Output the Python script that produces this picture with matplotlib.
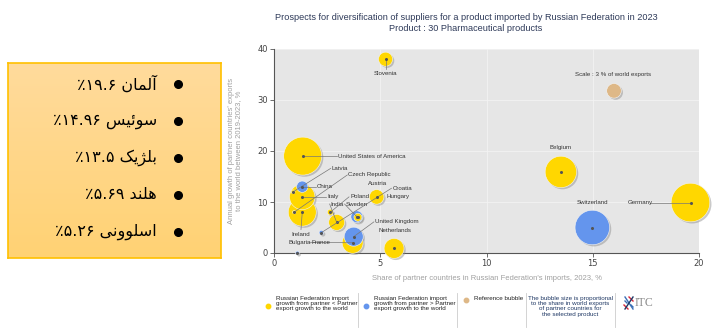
import numpy as np
import matplotlib
matplotlib.use('Agg')
import matplotlib.pyplot as plt
import matplotlib.patheffects as pe
from matplotlib.lines import Line2D
from matplotlib.colors import LinearSegmentedColormap

# partner countries of Russian Federation, HS 30 pharmaceutical products
countries = ['Slovenia', 'United States of America', 'Latvia', 'China', 'Italy',
             'Czech Republic', 'Ireland', 'Poland', 'India', 'Sweden', 'Hungary',
             'Croatia', 'Austria', 'United Kingdom', 'France', 'Bulgaria',
             'Netherlands', 'Belgium', 'Switzerland', 'Germany']
# share in Russian imports 2023, %
import_share = [5.25, 1.35, 0.9, 1.33, 1.33, 0.95, 1.33, 2.65, 2.95, 3.9, 3.95,
                2.23, 4.83, 3.75, 3.7, 1.1, 5.65, 13.5, 14.98, 19.6]
# annual growth of partner exports to the world 2019-2023, %
export_growth = [38.0, 19.0, 12.0, 13.0, 11.0, 8.0, 8.0, 8.0, 6.0, 7.1, 7.0,
                 4.0, 11.0, 3.2, 2.0, 0.0, 0.9, 15.9, 5.0, 9.9]
# share in world exports, % (bubble size)
world_share = [2.8, 20.3, 0.2, 1.8, 9.1, 0.15, 11.0, 0.5, 3.6, 2.0, 0.9,
               0.3, 3.0, 5.1, 6.2, 0.2, 5.6, 13.9, 16.8, 21.0]
# True -> Russian import growth from partner > partner export growth
import_faster = [False, False, False, True, False, False, False, False, False, True, False,
                 True, False, True, False, True, False, False, True, False]

ref_x, ref_y, ref_share = 16.0, 31.8, 3.0

# left panel (Persian)
fa_countries = ['آلمان', 'سوئیس', 'بلژیک', 'هلند', 'اسلوونی']
fa_values = [19.6, 14.96, 13.5, 5.69, 5.26]

# label placement: (x, y, ha, leader line)
label_pos = {
    'Slovenia': (5.25, 35.2, 'center', True),
    'United States of America': (3.0, 19.0, 'left', True),
    'Latvia': (2.72, 16.6, 'left', True),
    'China': (2.02, 13.0, 'left', True),
    'Italy': (2.52, 11.0, 'left', True),
    'Czech Republic': (3.5, 15.3, 'left', True),
    'Ireland': (1.27, 3.7, 'center', True),
    'Poland': (3.58, 11.0, 'left', True),
    'India': (2.67, 9.6, 'left', True),
    'Sweden': (3.37, 9.6, 'left', True),
    'Hungary': (5.3, 11.0, 'left', False),
    'Croatia': (5.58, 12.7, 'left', True),
    'Austria': (4.86, 13.7, 'center', False),
    'United Kingdom': (4.75, 6.1, 'left', True),
    'France': (1.75, 2.1, 'left', True),
    'Bulgaria': (0.67, 2.1, 'left', False),
    'Netherlands': (4.92, 4.4, 'left', False),
    'Belgium': (13.5, 20.6, 'center', False),
    'Switzerland': (14.98, 9.9, 'center', False),
    'Germany': (16.63, 9.9, 'left', True),
}

FORMS = {
    'آ': ('\uFE81', '\uFE82', None, None),
    'ا': ('\uFE8D', '\uFE8E', None, None),
    'ب': ('\uFE8F', '\uFE90', '\uFE91', '\uFE92'),
    'ئ': ('\uFE89', '\uFE8A', '\uFE8B', '\uFE8C'),
    'د': ('\uFEA9', '\uFEAA', None, None),
    'ژ': ('\uFB8A', '\uFB8B', None, None),
    'س': ('\uFEB1', '\uFEB2', '\uFEB3', '\uFEB4'),
    'ل': ('\uFEDD', '\uFEDE', '\uFEDF', '\uFEE0'),
    'م': ('\uFEE1', '\uFEE2', '\uFEE3', '\uFEE4'),
    'ن': ('\uFEE5', '\uFEE6', '\uFEE7', '\uFEE8'),
    'ه': ('\uFEE9', '\uFEEA', '\uFEEB', '\uFEEC'),
    'و': ('\uFEED', '\uFEEE', None, None),
    'ی': ('\uFBFC', '\uFBFD', '\uFBFE', '\uFBFF'),
    'ک': ('\uFB8E', '\uFB8F', '\uFB90', '\uFB91'),
}


def shape_rtl(word):
    # matplotlib does no arabic shaping, so pick presentation forms and reverse
    out = []
    for i, ch in enumerate(word):
        f = FORMS[ch]
        join_prev = i > 0 and FORMS[word[i - 1]][2] is not None
        join_next = i < len(word) - 1 and f[2] is not None
        if join_prev and join_next:
            out.append(f[3])
        elif join_prev:
            out.append(f[1])
        elif join_next:
            out.append(f[2])
        else:
            out.append(f[0])
    return ''.join(reversed(out))


fa_digits = str.maketrans('0123456789', '۰۱۲۳۴۵۶۷۸۹')

W, H = 719, 336
fig = plt.figure(figsize=(W / 100, H / 100), dpi=100)
fig.patch.set_facecolor('white')

# ---- left box
bx = fig.add_axes([8 / W, 1 - 257.5 / H, 213 / W, 195 / H])
grad = np.linspace(0, 1, 100).reshape(-1, 1)
cmap = LinearSegmentedColormap.from_list('box', ['#FFDB9C', '#FFD274'])
bx.imshow(grad, aspect='auto', cmap=cmap, extent=[0, 1, 0, 1], origin='upper')
bx.set_xticks([])
bx.set_yticks([])
for s in bx.spines.values():
    s.set_color('#FFC000')
    s.set_linewidth(1.2)

row_y = [83.5, 121, 158, 194.5, 232]
for name, val, py in zip(fa_countries, fa_values, row_y):
    num = ('%g' % val).translate(fa_digits)
    txt = '٪' + num + ' ' + shape_rtl(name)
    fig.text(157 / W, 1 - py / H, txt, ha='right', va='center', fontsize=11.5,
             family='DejaVu Sans', color='black')
    fig.add_artist(Line2D([178 / W], [1 - py / H], marker='o', ms=5.5, color='black',
                          transform=fig.transFigure))

# ---- bubble chart
ax = fig.add_axes([274 / W, 1 - 253 / H, 425 / W, 204 / H])
ax.set_facecolor('#E6E6E6')
ax.set_xlim(0, 20)
ax.set_ylim(0, 40)
ax.set_xticks([0, 5, 10, 15, 20])
ax.set_yticks([0, 10, 20, 30, 40])
ax.grid(True, color='#F3F3F3', lw=0.6)
ax.set_axisbelow(True)
for s in ['top', 'right']:
    ax.spines[s].set_visible(False)
for s in ['left', 'bottom']:
    ax.spines[s].set_color('#555555')
    ax.spines[s].set_linewidth(0.8)
ax.tick_params(length=3, width=0.6, color='#555555', labelsize=6,
               labelcolor='#444444', pad=1.5)

k = 36.8  # points^2 per % of world exports
shadow = [pe.SimplePatchShadow(offset=(1.2, -1.2), shadow_rgbFace='#888888', alpha=0.45),
          pe.Normal()]
order = np.argsort(world_share)[::-1]
xs = np.array(import_share)[order]
ys = np.array(export_growth)[order]
ss = np.array(world_share)[order] * k
cols = ['#6495ED' if import_faster[i] else '#FFD700' for i in order]
ax.scatter(xs, ys, s=ss, c=cols, edgecolors='#F4F4F4', linewidths=0.4,
           clip_on=False, zorder=3, path_effects=shadow)
ax.scatter([ref_x], [ref_y], s=ref_share * k, c='#DEB887', edgecolors='#F4F4F4',
           linewidths=0.4, zorder=3, path_effects=shadow)
ax.text(ref_x - 0.05, 35.0, 'Scale : 3 % of world exports', ha='center', va='center',
        fontsize=4.4, color='#333333', family='Liberation Sans')

for name, x, y in zip(countries, import_share, export_growth):
    lx, ly, ha, lead = label_pos[name]
    ax.text(lx, ly, name, ha=ha, va='center', fontsize=4.4, color='#333333',
            family='Liberation Sans', zorder=5)
    if lead:
        if ha == 'left':
            sx, sy = lx - 0.05, ly
        else:
            sx, sy = lx, ly + (0.9 if y > ly else -0.9)
        if name == 'Germany':
            sx, sy = lx + 1.05, ly
        ax.plot([sx, x], [sy, y], color='#777777', lw=0.5, zorder=4, clip_on=False)
    ax.plot([x], [y], 'o', ms=1.2, color='#555555', zorder=4, clip_on=False)

fig.text(486.5 / W, 1 - 279 / H,
         "Share of partner countries in Russian Federation's imports, 2023, %",
         ha='center', va='center', fontsize=5.5, color='#A0A0A0', family='Liberation Sans')
fig.text(235 / W, 1 - 151 / H,
         "Annual growth of partner countries' exports\nto the world between 2019-2023, %",
         ha='center', va='center', rotation=90, fontsize=5.5, color='#A0A0A0',
         family='Liberation Sans', linespacing=1.1)

fig.text(466 / W, 1 - 18 / H,
         'Prospects for diversification of suppliers for a product imported by Russian Federation in 2023',
         ha='center', va='center', fontsize=6.6, color='#2E3A59', family='Liberation Sans')
fig.text(466 / W, 1 - 28.5 / H, 'Product : 30 Pharmaceutical products',
         ha='center', va='center', fontsize=6.6, color='#2E3A59', family='Liberation Sans')

# ---- legend
leg_txt = dict(fontsize=4.5, color='#222222', family='Liberation Sans', va='top',
               linespacing=1.05)
fig.add_artist(Line2D([267.5 / W], [1 - 306 / H], marker='o', ms=3.2, color='#FFD700',
                      transform=fig.transFigure))
fig.text(276 / W, 1 - 296 / H,
         'Russian Federation import\ngrowth from partner < Partner\nexport growth to the world',
         ha='left', **leg_txt)
fig.add_artist(Line2D([366 / W], [1 - 306 / H], marker='o', ms=3.2, color='#6495ED',
                      transform=fig.transFigure))
fig.text(374 / W, 1 - 296 / H,
         'Russian Federation import\ngrowth from partner > Partner\nexport growth to the world',
         ha='left', **leg_txt)
fig.add_artist(Line2D([465.5 / W], [1 - 300 / H], marker='o', ms=3.2, color='#DEB887',
                      transform=fig.transFigure))
fig.text(474 / W, 1 - 296 / H, 'Reference bubble', ha='left', **leg_txt)
fig.text(570.5 / W, 1 - 296 / H,
         'The bubble size is proportional\nto the share in world exports\nof partner countries for\nthe selected product',
         ha='center', fontsize=4.5, color='#1F3864', family='Liberation Sans', va='top',
         linespacing=1.05)
for sx in [357.5, 456.5, 526, 614.5]:
    fig.add_artist(Line2D([sx / W, sx / W], [1 - 293 / H, 1 - 327 / H], color='#CCCCCC',
                          lw=0.6, transform=fig.transFigure))

# ITC logo
for (x0, y0, x1, y1, c) in [(625, 297, 633, 309, '#3B6FB6'), (624, 305, 628, 309, '#D9263A'),
                             (629, 297, 633, 301, '#D9263A'), (625, 301, 627, 303, '#3B6FB6'),
                             (631, 305, 633, 307, '#3B6FB6'), (633, 297, 625, 309, '#1F3864')]:
    fig.add_artist(Line2D([x0 / W, x1 / W], [1 - y0 / H, 1 - y1 / H], color=c, lw=1.0,
                          transform=fig.transFigure))
fig.text(635 / W, 1 - 303 / H, 'ITC', ha='left', va='center', fontsize=8.5,
         color='#8C8C8C', family='Liberation Serif')

fig.savefig('out.png', dpi=100)
